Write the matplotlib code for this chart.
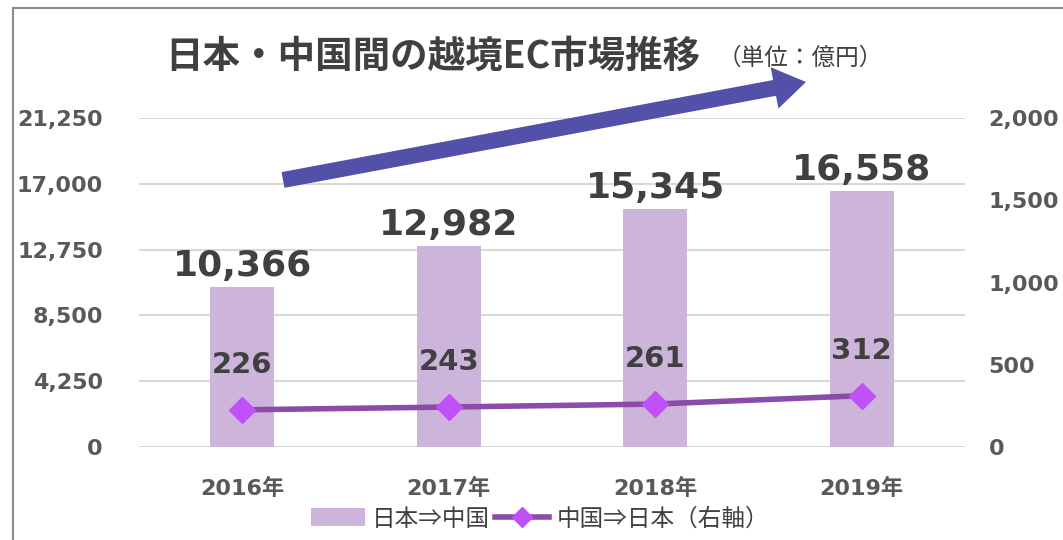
import matplotlib
matplotlib.use("Agg")
import matplotlib.pyplot as plt
from matplotlib.patches import Polygon
from matplotlib.lines import Line2D
import numpy as np

plt.rcParams['font.family'] = ['DejaVu Sans', 'Noto Sans CJK JP']

years = ["2016年", "2017年", "2018年", "2019年"]
jp_to_cn = [10366, 12982, 15345, 16558]
cn_to_jp = [226, 243, 261, 312]
left_ticks = [0, 4250, 8500, 12750, 17000, 21250]
right_ticks = [0, 500, 1000, 1500, 2000]
title = "日本・中国間の越境EC市場推移"
subtitle = "（単位：億円）"
legend_labels = ["日本⇒中国", "中国⇒日本（右軸）"]

W, H = 1063, 540
fig = plt.figure(figsize=(W / 100, H / 100), dpi=100)
ax = fig.add_axes([139 / W, 1 - 447 / H, (965 - 139) / W, (447 - 118) / H])
ax2 = ax.twinx()

x = np.arange(len(years))
bar_c = "#CDB4DB"
line_c = "#8B4BA8"
mark_c = "#C050F8"
txt_c = "#404040"
tick_c = "#595959"

ax.bar(x, jp_to_cn, width=0.31, color=bar_c, zorder=2)
ax.set_xlim(-0.5, len(years) - 0.5)
ax.set_ylim(0, 21250)
ax.set_yticks(left_ticks)
ax.set_yticklabels([f"{v:,}" for v in left_ticks])
ax.yaxis.grid(True, color="#D9D9D9", linewidth=1.5, zorder=0)
ax.set_axisbelow(True)
for s in ax.spines.values():
    s.set_visible(False)
for s in ax2.spines.values():
    s.set_visible(False)
ax.tick_params(axis='y', length=0, pad=26, labelsize=16, labelcolor=tick_c)
for t in ax.get_yticklabels():
    t.set_fontweight('bold')
ax.set_xticks(x)
ax.set_xticklabels(years, fontsize=16, fontweight='bold', color=tick_c)
ax.tick_params(axis='x', length=0, pad=22)

ax2.plot(x, cn_to_jp, color=line_c, linewidth=4, marker='D', markersize=13,
         markerfacecolor=mark_c, markeredgecolor=mark_c, zorder=3)
ax2.set_ylim(0, 2000)
ax2.set_yticks(right_ticks)
ax2.set_yticklabels([f"{v:,}" for v in right_ticks])
ax2.tick_params(axis='y', length=0, pad=17, labelsize=16, labelcolor=tick_c)
for t in ax2.get_yticklabels():
    t.set_fontweight('bold')

for xi, v in zip(x, jp_to_cn):
    ax.annotate(f"{v:,}", (xi, v), xytext=(0, 4), textcoords='offset pixels',
                ha='center', va='bottom', fontsize=26, fontweight='bold', color=txt_c)
for xi, v in zip(x, cn_to_jp):
    ax2.annotate(f"{v:,}", (xi, v), xytext=(0, 31), textcoords='offset pixels',
                 ha='center', va='bottom', fontsize=21, fontweight='bold', color=txt_c)

# Title
fig.text(165 / W, 1 - 56 / H, title, fontsize=27, fontweight='bold', color=txt_c,
         ha='left', va='center', family=['Noto Sans CJK JP'])
fig.text(718 / W, 1 - 58 / H, subtitle, fontsize=17, color=txt_c,
         ha='left', va='center', family=['Noto Sans CJK JP'])

# Arrow (pixel geometry)
p0 = np.array([283.0, 180.0])
p1 = np.array([806.0, 82.0])
d = p1 - p0
L = np.hypot(*d)
u = d / L
n = np.array([-u[1], u[0]])
sw, hw, hl = 8.0, 21.0, 32.0
base = p1 - u * hl
pts = [p0 + n * sw, base + n * sw, base + n * hw, p1, base - n * hw, base - n * sw, p0 - n * sw]
pts = [(px / W, 1 - py / H) for px, py in pts]
fig.patches.append(Polygon(pts, closed=True, transform=fig.transFigure,
                           facecolor="#5250A8", edgecolor="none", zorder=5))

# Border
fig.add_artist(Line2D([13 / W, 1.0], [1 - 8 / H, 1 - 8 / H], transform=fig.transFigure,
                      color="#8C8C8C", linewidth=1.5))
fig.add_artist(Line2D([13 / W, 13 / W], [0, 1 - 8 / H], transform=fig.transFigure,
                      color="#8C8C8C", linewidth=1.5))

# Legend
h1 = plt.Rectangle((0, 0), 1, 1, facecolor=bar_c, edgecolor='none')
h2 = Line2D([], [], color=line_c, linewidth=4, marker='D', markersize=10,
            markerfacecolor=mark_c, markeredgecolor=mark_c)
leg = fig.legend([h1, h2], legend_labels, loc='center', bbox_to_anchor=(540 / W, 1 - 519 / H),
                 ncol=2, frameon=False, handlelength=2.3, handleheight=0.8,
                 columnspacing=0.2, handletextpad=0.3, borderpad=0,
                 prop={'family': ['Noto Sans CJK JP'], 'size': 17})
for t in leg.get_texts():
    t.set_color(txt_c)

fig.savefig("out.png", dpi=100)
